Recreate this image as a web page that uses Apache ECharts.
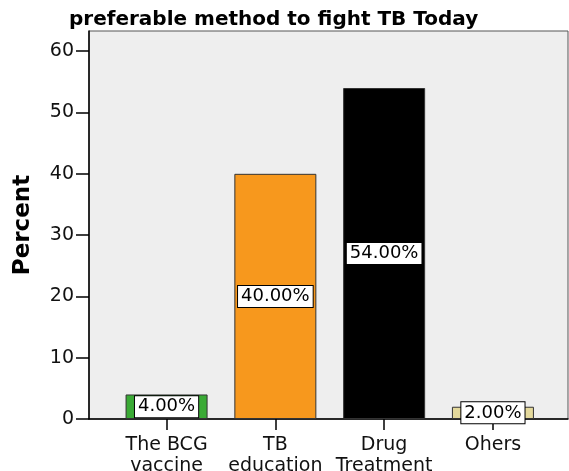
<!DOCTYPE html>
<html>
<head>
<meta charset="utf-8">
<script src="https://cdn.jsdelivr.net/npm/echarts@6/dist/echarts.min.js"></script>
<style>
  html, body { margin: 0; padding: 0; background: #fff; }
  #chart { width: 569px; height: 471px; }
</style>
</head>
<body>
<div id="chart"></div>
<script>
const categories = ['The BCG\nvaccine', 'TB\neducation', 'Drug\nTreatment', 'Ohers']
const percents = [4, 40, 54, 2]
const yTicks = [0, 10, 20, 30, 40, 50, 60]
const barColors = ['#3aaa35', '#f7981d', '#000000', '#e4d99c']

const positions = categories.map((_, i) => i)
const font = '"DejaVu Sans", sans-serif'

const chart = echarts.init(document.getElementById('chart'), null, { renderer: 'canvas' })

const option = {
  animation: false,
  title: {
    text: 'preferable method to fight TB Today',
    left: 69,
    top: 10,
    padding: 0,
    textStyle: { fontFamily: font, fontSize: 20, fontWeight: 'bold', color: '#000' }
  },
  grid: {
    left: 89,
    right: 1,
    top: 31,
    bottom: 52,
    outerBoundsMode: 'none',
    show: true,
    backgroundColor: '#eeeeee',
    borderColor: '#555',
    borderWidth: 1
  },
  xAxis: {
    type: 'value',
    min: -0.713,
    max: 3.69,
    splitLine: { show: false },
    axisLine: { show: true, onZero: false, lineStyle: { color: '#000', width: 1.5 } },
    axisTick: {
      show: true,
      length: 11,
      customValues: positions,
      lineStyle: { color: '#000', width: 1.5 }
    },
    axisLabel: {
      customValues: positions,
      formatter: v => categories[Math.round(v)],
      margin: 16,
      fontFamily: font,
      fontSize: 19,
      lineHeight: 21,
      color: '#111'
    }
  },
  yAxis: {
    type: 'value',
    min: 0,
    max: 63.3,
    name: 'Percent',
    nameLocation: 'middle',
    nameGap: 54,
    nameTextStyle: { fontFamily: font, fontSize: 23, fontWeight: 'bold', color: '#000' },
    splitLine: { show: false },
    axisLine: { show: true, onZero: false, lineStyle: { color: '#000', width: 1.5 } },
    axisTick: {
      show: true,
      length: 13,
      customValues: yTicks,
      lineStyle: { color: '#000', width: 1.5 }
    },
    axisLabel: {
      customValues: yTicks,
      margin: 15,
      fontFamily: font,
      fontSize: 19,
      color: '#111'
    }
  },
  series: [
    {
      type: 'bar',
      barWidth: 82,
      data: positions.map((p, i) => [p, percents[i]]),
      itemStyle: {
        color: params => barColors[params.dataIndex],
        borderColor: '#333',
        borderWidth: 1
      },
      label: {
        show: true,
        position: 'inside',
        formatter: params => percents[params.dataIndex].toFixed(2) + '%',
        fontFamily: font,
        fontSize: 18,
        lineHeight: 19,
        color: '#000',
        backgroundColor: '#fff',
        borderColor: '#000',
        borderWidth: 1,
        padding: [1, 3]
      }
    }
  ]
}

chart.setOption(option)
</script>
</body>
</html>
